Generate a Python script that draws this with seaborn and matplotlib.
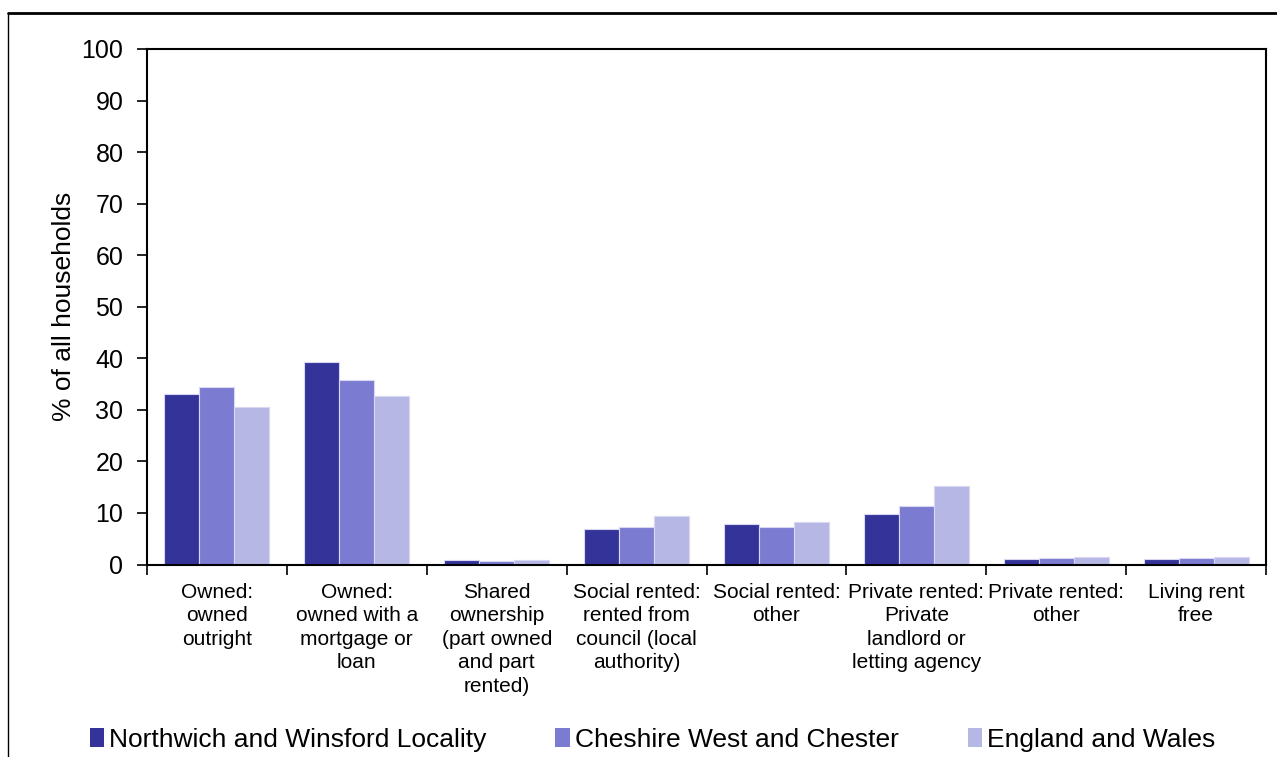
import matplotlib
matplotlib.use("Agg")
import matplotlib.pyplot as plt
import numpy as np
import pandas as pd
import seaborn as sns
from matplotlib.lines import Line2D
from matplotlib.patches import Patch

categories = [
    "Owned:\nowned\noutright",
    "Owned:\nowned with a\nmortgage or\nloan",
    "Shared\nownership\n(part owned\nand part\nrented)",
    "Social rented:\nrented from\ncouncil (local\nauthority)",
    "Social rented:\nother",
    "Private rented:\nPrivate\nlandlord or\nletting agency",
    "Private rented:\nother",
    "Living rent\nfree",
]
areas = ["Northwich and Winsford Locality", "Cheshire West and Chester", "England and Wales"]
northwich = [33.1, 39.2, 0.8, 6.8, 7.9, 9.7, 1.0, 1.0]
cheshire = [34.5, 35.8, 0.7, 7.3, 7.3, 11.3, 1.2, 1.2]
england = [30.6, 32.7, 0.8, 9.4, 8.2, 15.3, 1.4, 1.4]
colors = ["#333399", "#7b7bd1", "#b7b7e6"]

rows = []
for area, vals in zip(areas, [northwich, cheshire, england]):
    for cat, v in zip(categories, vals):
        rows.append({"tenure": cat, "area": area, "pct": v})
df = pd.DataFrame(rows)

sns.set_style("white")
plt.rcParams["font.family"] = ["Liberation Sans", "DejaVu Sans"]
plt.rcParams["text.color"] = "black"
plt.rcParams["axes.labelcolor"] = "black"
plt.rcParams["xtick.color"] = "black"
plt.rcParams["ytick.color"] = "black"

fig = plt.figure(figsize=(12.77, 7.57), dpi=100)
ax = fig.add_axes([147 / 1277, 1 - 564.5 / 757, (1266 - 147) / 1277, (564.5 - 49) / 757])

sns.barplot(
    data=df, x="tenure", y="pct", hue="area", order=categories, hue_order=areas,
    palette=colors, saturation=1, width=0.75, edgecolor="#d8d8f2", linewidth=0.8, ax=ax,
)
ax.get_legend().remove()

ax.set_ylim(0, 100)
ax.set_xlim(-0.5, len(categories) - 0.5)
ax.set_yticks(np.arange(0, 101, 10))
ax.tick_params(axis="y", labelsize=18, direction="out", length=7, width=1.2, left=True, pad=10)
ax.set_xticks(range(len(categories)))
ax.set_xticklabels(categories, fontsize=15, linespacing=1.3)
ax.tick_params(axis="x", which="major", length=0, pad=13)
ax.set_xticks(np.arange(-0.5, len(categories), 1), minor=True)
ax.tick_params(axis="x", which="minor", direction="out", length=7, width=1.2, bottom=True)
ax.set_xlabel("")
ax.set_ylabel("% of all households", fontsize=19, labelpad=4)
for s in ax.spines.values():
    s.set_visible(True)
    s.set_color("black")
    s.set_linewidth(1.5)

# outer chart frame (top and left edges visible)
fig.add_artist(Line2D([8 / 1277, 1], [1 - 13 / 757, 1 - 13 / 757], transform=fig.transFigure,
                      color="black", linewidth=2))
fig.add_artist(Line2D([8 / 1277, 8 / 1277], [0, 1 - 13 / 757], transform=fig.transFigure,
                      color="black", linewidth=1))

handles = [Patch(facecolor=c, edgecolor="none") for c in colors]
fig.legend(handles, areas, loc="center left", bbox_to_anchor=(79 / 1277, 1 - 740 / 757),
           ncol=3, frameon=False, fontsize=19, handlelength=0.55, handleheight=0.75,
           handletextpad=0.2, columnspacing=2.6, borderaxespad=0)

fig.savefig("out.png", dpi=100)
